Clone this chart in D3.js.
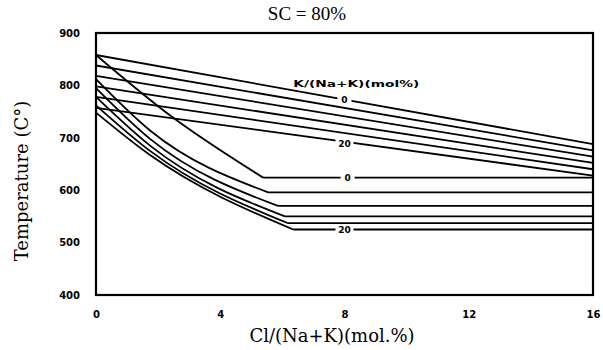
<!DOCTYPE html>
<html>
<head>
<meta charset="utf-8">
<script src="https://cdn.jsdelivr.net/npm/d3@7"></script>
<style>
  body { margin: 0; background: #fff; }
  svg { display: block; }
</style>
</head>
<body>
<svg id="chart" width="603" height="350"></svg>
<script>
// K/(Na+K) mol% of each curve
var kValues = [0, 4, 8, 12, 16, 20];
// shallow (upper) lines: temperature at Cl = 0 and at Cl = 16
var upperT0 = [858, 838, 818, 798, 778, 757];
var upperT16 = [688, 676, 664, 652, 640, 628];
// steep (lower) curves: x / temperature points, last one is the kink, then flat to 16
var lowerX = [
    [0, 2.4, 5.38],
    [0, 1.74, 5.54],
    [0, 1.74, 5.86],
    [0, 1.74, 6.08],
    [0, 1.74, 6.18],
    [0, 1.74, 6.35]
];
var lowerT = [
    [858, 742, 624],
    [812, 714, 596],
    [795, 698, 570],
    [778, 685, 550],
    [762, 675, 537],
    [748, 667, 525]
];
var xTicks = [0, 4, 8, 12, 16];
var yTicks = [400, 500, 600, 700, 800, 900];

var svg = d3.select("#chart"),
    margin = {top: 33, right: 10, bottom: 55, left: 96},
    width = +svg.attr("width") - margin.left - margin.right,
    height = +svg.attr("height") - margin.top - margin.bottom;

var x = d3.scaleLinear().domain([0, 16]).range([0, width]);
var y = d3.scaleLinear().domain([400, 900]).range([height, 0]);

var g = svg.append("g").attr("transform", "translate(" + margin.left + "," + margin.top + ")");

var line = d3.line()
    .x(function(d) { return x(d[0]); })
    .y(function(d) { return y(d[1]); });
var smooth = d3.line()
    .curve(d3.curveMonotoneX)
    .x(function(d) { return x(d[0]); })
    .y(function(d) { return y(d[1]); });

function stroke(sel) {
    sel.attr("fill", "none")
        .attr("stroke", "#000")
        .attr("stroke-width", 1.8);
}

// upper family
kValues.map(function(k, i) {
    g.append("path")
        .attr("d", line([[0, upperT0[i]], [16, upperT16[i]]]))
        .call(stroke);
});

// lower family: curved descent then flat
kValues.map(function(k, i) {
    var pts = lowerX[i].map(function(v, j) { return [v, lowerT[i][j]]; });
    var kink = pts[pts.length - 1];
    g.append("path").attr("d", smooth(pts)).call(stroke);
    g.append("path").attr("d", line([kink, [16, kink[1]]])).call(stroke);
});

// curve labels, sitting in a gap of the line
function curveLabel(txt, cx, cy, w) {
    g.append("rect")
        .attr("x", x(cx) - w / 2).attr("y", y(cy) - 5)
        .attr("width", w).attr("height", 10)
        .attr("fill", "#fff");
    g.append("text")
        .attr("x", x(cx)).attr("y", y(cy) + 3.5)
        .attr("text-anchor", "middle")
        .attr("font-family", "DejaVu Sans")
        .attr("font-weight", "bold")
        .attr("font-size", 9)
        .text(txt);
}
var first = 0, last = kValues.length - 1;
curveLabel(String(kValues[first]), 8, (upperT0[first] + upperT16[first]) / 2, 14);
curveLabel(String(kValues[last]), 8, (upperT0[last] + upperT16[last]) / 2 - 3, 18);
curveLabel(String(kValues[first]), 8.1, lowerT[first][2], 14);
curveLabel(String(kValues[last]), 8, lowerT[last][2], 18);

g.append("text")
    .attr("x", x(6.35)).attr("y", y(797))
    .attr("font-family", "DejaVu Sans")
    .attr("font-weight", "bold")
    .attr("font-size", 8)
    .attr("textLength", 126)
    .attr("lengthAdjust", "spacingAndGlyphs")
    .text("K/(Na+K)(mol%)");

// frame
g.append("rect")
    .attr("width", width).attr("height", height)
    .attr("fill", "none")
    .attr("stroke", "#000")
    .attr("stroke-width", 2.2);

// axes, labels only
var xAxis = g.append("g")
    .attr("transform", "translate(0," + height + ")")
    .call(d3.axisBottom(x).tickValues(xTicks).tickSize(0).tickPadding(16));
var yAxis = g.append("g")
    .call(d3.axisLeft(y).tickValues(yTicks).tickSize(0).tickPadding(16));
[xAxis, yAxis].map(function(a) {
    a.select(".domain").remove();
    a.selectAll("text")
        .attr("font-family", "DejaVu Sans")
        .attr("font-weight", "bold")
        .attr("font-size", 10)
        .attr("fill", "#000");
});

svg.append("text")
    .attr("x", 307).attr("y", 20)
    .attr("text-anchor", "middle")
    .attr("font-family", "Liberation Serif")
    .attr("font-size", 19)
    .text("SC = 80%");

svg.append("text")
    .attr("x", 332).attr("y", 342)
    .attr("text-anchor", "middle")
    .attr("font-family", "DejaVu Serif")
    .attr("font-size", 18)
    .text("Cl/(Na+K)(mol.%)");

svg.append("text")
    .attr("transform", "translate(28,181) rotate(-90)")
    .attr("text-anchor", "middle")
    .attr("font-family", "DejaVu Serif")
    .attr("font-size", 18)
    .text("Temperature (C°)");
</script>
</body>
</html>
